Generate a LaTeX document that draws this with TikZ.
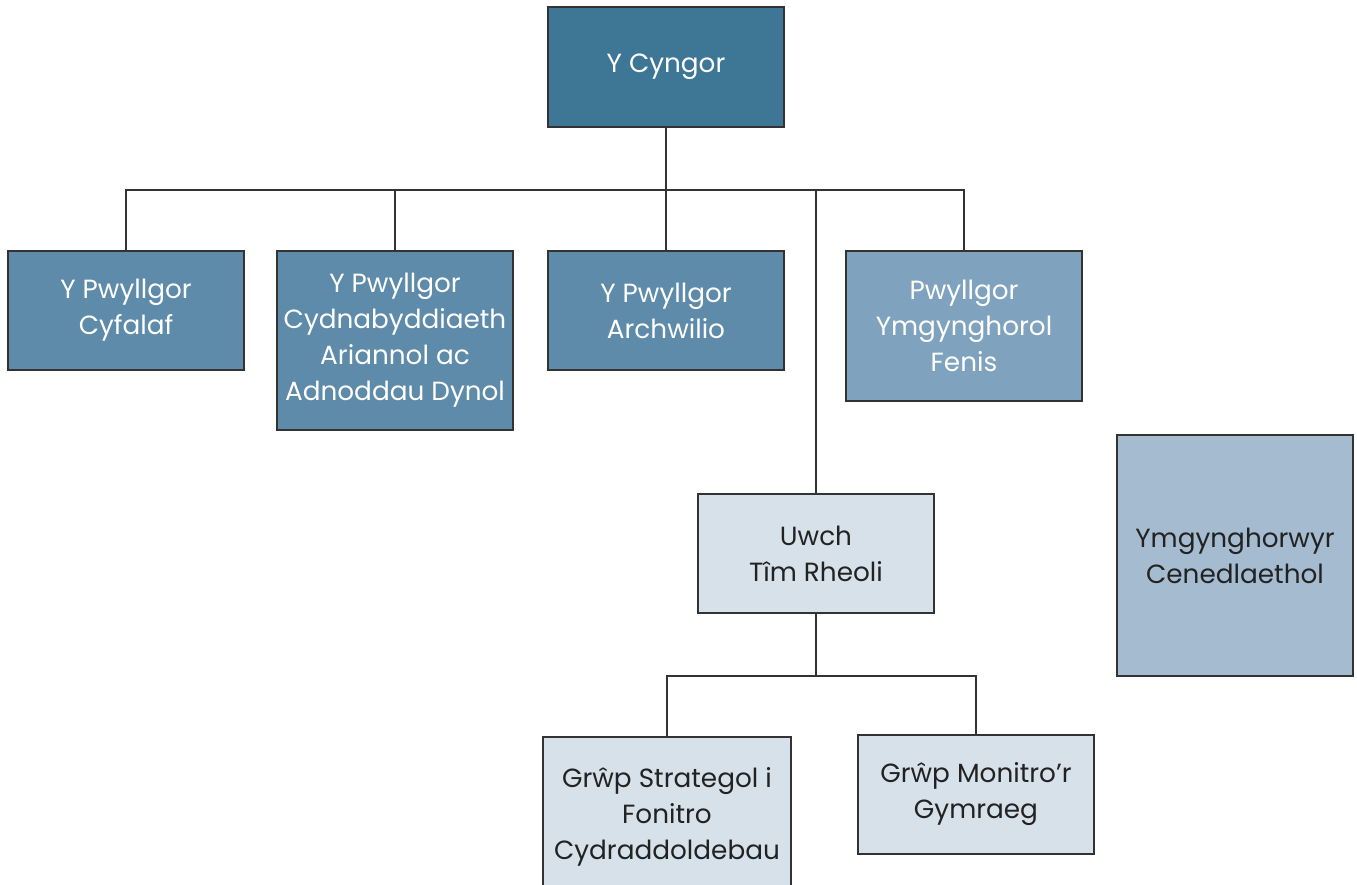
\documentclass[tikz,border=0pt]{standalone}
\usepackage{fontspec}
\setmainfont{Poppins}
\definecolor{cDark}{HTML}{3E7696}
\definecolor{cMid}{HTML}{5E8BA9}
\definecolor{cFen}{HTML}{7FA3BE}
\definecolor{cLight}{HTML}{D6E1EA}
\definecolor{cAdv}{HTML}{A5BCD0}
\definecolor{cLine}{HTML}{333333}
\definecolor{cTxt}{HTML}{222222}
\tikzset{
  box/.style={draw=cLine, line width=1.5pt, rectangle, align=center, inner sep=0pt,
    font=\fontsize{26.3}{36}\selectfont},
  wbox/.style={box, text=white},
  dbox/.style={box, text=cTxt},
  conn/.style={draw=cLine, line width=1.4pt}
}
\begin{document}
\begin{tikzpicture}[x=1pt,y=-1pt]
\useasboundingbox (0,0) rectangle (1357,885);
\clip (0,0) rectangle (1357,885);
\node[wbox, fill=cDark, minimum width=236pt, minimum height=120pt] (cyngor) at (666,67) {Y Cyngor};
\node[wbox, fill=cMid, minimum width=236pt, minimum height=119pt] (cyfalaf) at (126,310.5) {Y Pwyllgor\\Cyfalaf};
\node[wbox, fill=cMid, minimum width=236pt, minimum height=179pt] (cydna) at (395,340.5) {Y Pwyllgor\\Cydnabyddiaeth\\Ariannol ac\\Adnoddau Dynol};
\node[wbox, fill=cMid, minimum width=236pt, minimum height=119pt] (archw) at (666,310.5) {Y Pwyllgor\\Archwilio};
\node[wbox, fill=cFen, minimum width=236pt, minimum height=150pt] (fenis) at (964,326) {Pwyllgor\\Ymgynghorol\\Fenis};
\node[dbox, fill=cLight, minimum width=236pt, minimum height=119pt] (uwch) at (816,553.5) {Uwch\\Tîm Rheoli};
\node[dbox, fill=cLight, minimum width=248pt, minimum height=160pt] (strat) at (667,817) {Grŵp Strategol i\\Fonitro\\Cydraddoldebau};
\node[dbox, fill=cLight, minimum width=236pt, minimum height=119pt] (monit) at (976,794.5) {Grŵp Monitro’r\\Gymraeg};
\node[dbox, fill=cAdv, minimum width=236pt, minimum height=241pt] (adv) at (1235,555.5) {Ymgynghorwyr\\Cenedlaethol};
\coordinate (busA) at (0,190);
\coordinate (busB) at (0,676);
\draw[conn] (cyngor.south) -- (cyngor.south |- busA);
\draw[conn] (cyfalaf.north) -- (cyfalaf.north |- busA) -- (fenis.north |- busA) -- (fenis.north);
\draw[conn] (cydna.north) -- (cydna.north |- busA);
\draw[conn] (archw.north) -- (archw.north |- busA);
\draw[conn] (uwch.north) -- (uwch.north |- busA);
\draw[conn] (uwch.south) -- (uwch.south |- busB);
\draw[conn] (strat.north) -- (strat.north |- busB) -- (monit.north |- busB) -- (monit.north);
\end{tikzpicture}
\end{document}
